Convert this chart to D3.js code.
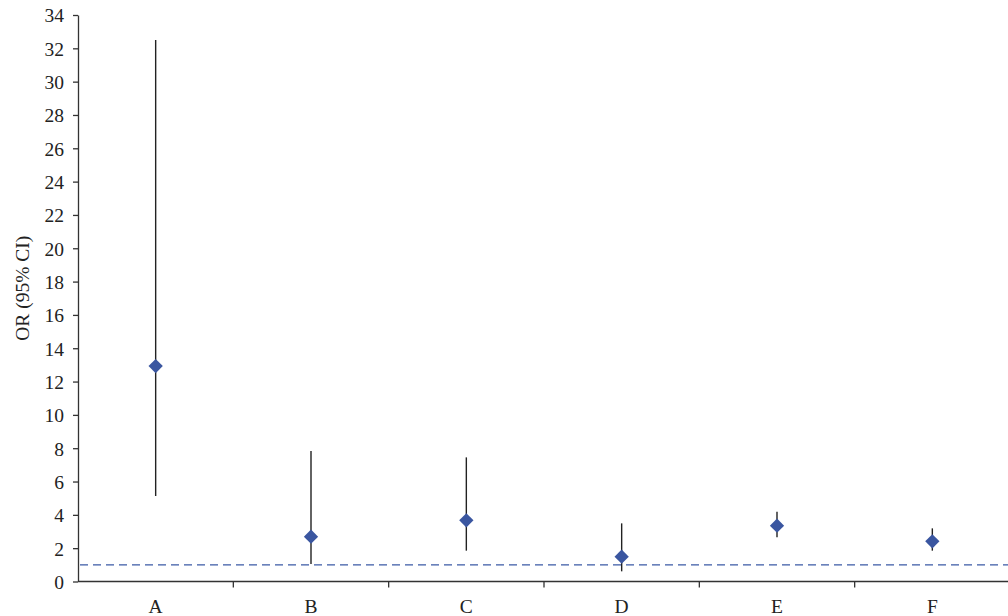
<!DOCTYPE html>
<html>
<head>
<meta charset="utf-8">
<script src="https://cdn.jsdelivr.net/npm/d3@7"></script>
<style>
  body { margin: 0; background: #fff; }
  svg text { font-family: "Liberation Serif", "DejaVu Serif", serif; fill: #222; }
</style>
</head>
<body>
<div id="chart"></div>
<script>
// Odds ratios with 95% confidence intervals
const categories = ["A", "B", "C", "D", "E", "F"];
const orValues = [12.93, 2.69, 3.67, 1.49, 3.35, 2.41];
const ciLower = [5.13, 1.05, 1.85, 0.61, 2.65, 1.85];
const ciUpper = [32.5, 7.83, 7.45, 3.49, 4.19, 3.19];
const yTicks = d3.range(0, 35, 2);
const referenceLine = 1;

const width = 1008, height = 616;
const margin = {top: 15, right: -2, bottom: 34.5, left: 78};
const fontSize = 19.5;

const svg = d3.select("#chart").append("svg")
    .attr("width", width)
    .attr("height", height);

const x = d3.scaleBand()
    .domain(categories)
    .range([margin.left, width - margin.right]);

const y = d3.scaleLinear()
    .domain([0, 34])
    .range([height - margin.bottom, margin.top]);

const data = categories.map((c, i) => ({
  cat: c, or: orValues[i], lo: ciLower[i], hi: ciUpper[i]
}));

// y axis
const yAxis = svg.append("g")
    .attr("transform", `translate(${margin.left},0)`)
    .call(d3.axisLeft(y).tickValues(yTicks).tickSize(5).tickSizeOuter(0).tickPadding(9));
yAxis.select(".domain").attr("stroke", "#333").attr("stroke-width", 1.3);
yAxis.selectAll(".tick line").attr("stroke", "#333").attr("stroke-width", 1.3);
yAxis.selectAll(".tick text").attr("font-size", fontSize).attr("dy", "0.35em");

// x axis: ticks between categories
const boundaries = categories.slice(1).map(c => x(c));
const xAxisG = svg.append("g")
    .attr("transform", `translate(0,${y(0)})`);
xAxisG.append("line")
    .attr("x1", margin.left).attr("x2", width)
    .attr("stroke", "#333").attr("stroke-width", 1.5);
xAxisG.selectAll(".btick")
    .data(boundaries)
  .join("line")
    .attr("class", "btick")
    .attr("x1", d => d).attr("x2", d => d)
    .attr("y1", 0).attr("y2", 6)
    .attr("stroke", "#333").attr("stroke-width", 1.3);
xAxisG.selectAll(".clabel")
    .data(categories)
  .join("text")
    .attr("class", "clabel")
    .attr("x", d => x(d) + x.bandwidth() / 2)
    .attr("y", 31)
    .attr("text-anchor", "middle")
    .attr("font-size", fontSize)
    .text(d => d);

// axis title
svg.append("text")
    .attr("transform", `translate(29,${y(17.6)}) rotate(-90)`)
    .attr("text-anchor", "middle")
    .attr("font-size", fontSize)
    .text("OR (95% CI)");

// reference line at OR = 1
svg.append("line")
    .attr("x1", margin.left + 2).attr("x2", width)
    .attr("y1", y(referenceLine)).attr("y2", y(referenceLine))
    .attr("stroke", "#3b5aa5")
    .attr("stroke-width", 1.3)
    .attr("stroke-dasharray", "8,5");

// confidence interval whiskers
svg.selectAll(".ci")
    .data(data)
  .join("line")
    .attr("class", "ci")
    .attr("x1", d => x(d.cat) + x.bandwidth() / 2)
    .attr("x2", d => x(d.cat) + x.bandwidth() / 2)
    .attr("y1", d => y(d.lo))
    .attr("y2", d => y(d.hi))
    .attr("stroke", "#222")
    .attr("stroke-width", 1.4);

// point estimates as diamonds
svg.selectAll(".pt")
    .data(data)
  .join("path")
    .attr("class", "pt")
    .attr("transform", d => `translate(${x(d.cat) + x.bandwidth() / 2},${y(d.or)})`)
    .attr("d", d3.symbol(d3.symbolDiamond2, 130))
    .attr("fill", "#3a56a0");
</script>
</body>
</html>
